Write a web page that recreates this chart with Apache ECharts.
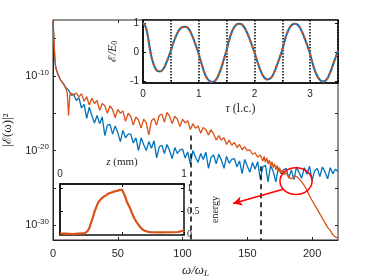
<!DOCTYPE html>
<html><head><meta charset="utf-8">
<script src="https://cdn.jsdelivr.net/npm/echarts@6/dist/echarts.min.js"></script>
<style>html,body{margin:0;padding:0;background:#fff}#c{width:374px;height:280px}</style>
</head><body><div id="c"></div>
<script>
// ---- main spectrum (log10 of |E(w)|^2) ----
const omegaBlue = [0,0.5,1,1.5,2,3,4,5,6,8,10,12,14,16,18,20,22,24,26,28,30,32,34,36,38,40,42,44,46,48,50,52,54,56,58,60,62,64,66,68,70,72,74,76,78,80,82,84,86,88,90,92,94,96,98,100,102,104,106,108,110,112,114,116,118,120,122,124,126,128,130,132,134,136,138,140,142,144,146,148,150,152,154,156,158,160,162,164,166,168,170,172,174,176,178,180,182,184,186,188,190,192,194,196,198,200,202,204,206,208,210,212,214,216,218,220];
const logBlue = [-2.9,-4.5,-6.5,-8.0,-8.8,-9.4,-9.9,-10.2,-10.6,-11.0,-11.6,-11.9,-12.6,-12.5,-13.3,-12.9,-14.3,-13.8,-15.7,-14.2,-15.3,-16.3,-15.3,-16.4,-15.5,-18.0,-16.6,-16.5,-17.8,-16.7,-17.6,-18.8,-17.3,-18.3,-17.8,-17.8,-19.0,-18.3,-20.0,-18.3,-19.2,-20.0,-18.8,-19.7,-18.7,-21.0,-19.5,-19.3,-20.4,-19.2,-20.0,-21.1,-19.6,-20.4,-19.9,-19.8,-21.0,-20.2,-21.8,-20.0,-20.9,-21.6,-20.4,-21.2,-20.2,-22.4,-20.9,-20.6,-21.8,-20.5,-21.3,-22.4,-20.8,-21.7,-21.2,-21.1,-22.2,-21.4,-23.1,-21.2,-22.1,-22.9,-21.6,-22.5,-21.5,-23.8,-22.2,-22.0,-24.2,-22.0,-22.8,-24.2,-22.3,-23.1,-22.6,-22.4,-23.7,-22.6,-23.9,-22.2,-23.0,-23.7,-22.3,-23.2,-22.1,-24.0,-22.7,-22.4,-23.5,-22.2,-22.9,-23.8,-22.3,-23.1,-22.5,-22.8];
const omegaOrange = [0,0.5,1,1.5,2,3,4,5,6,8,10,11,12,13,14,16,18,20,22,24,26,28,30,32,34,36,38,40,42,44,46,48,50,52,54,56,58,60,62,64,66,68,70,72,74,76,78,80,82,84,86,88,90,92,94,96,98,100,102,104,106,108,110,112,114,116,118,120,122,124,126,128,130,132,134,136,138,140,142,144,146,148,150,152,154,156,158,160,162,163,164,165,166,167,168,169,170,171,172,173,174,175,176,177,178,180,182,184,186,188,190,192,194,196,198,200,202,204,206,208,210,212,214,216,218,220];
const logOrange = [-2.5,-4.0,-6.0,-7.8,-8.7,-9.3,-9.8,-10.2,-10.6,-11.1,-11.7,-12.3,-15.3,-12.6,-12.3,-12.5,-12.3,-12.8,-12.4,-13.4,-12.8,-13.9,-13.0,-13.7,-13.3,-14.6,-13.7,-14.0,-15.0,-14.0,-14.5,-15.6,-14.5,-15.0,-14.7,-16.1,-15.0,-15.4,-16.6,-15.5,-15.9,-17.0,-15.8,-16.3,-17.9,-16.0,-15.7,-16.6,-15.3,-15.1,-16.2,-14.9,-15.4,-16.4,-15.4,-15.8,-16.8,-15.8,-16.3,-16.0,-17.2,-16.4,-17.0,-16.7,-17.7,-16.9,-17.2,-17.9,-17.2,-17.8,-18.6,-18.0,-18.6,-18.3,-19.2,-18.6,-19.3,-18.9,-19.6,-19.2,-19.9,-19.5,-20.0,-19.9,-20.5,-20.3,-20.9,-20.6,-21.4,-20.8,-21.6,-21.0,-21.8,-21.3,-22.1,-21.5,-22.3,-21.8,-22.6,-22.0,-22.8,-22.3,-23.0,-22.6,-23.2,-23.0,-23.6,-23.8,-23.4,-23.5,-23.8,-24.2,-24.7,-25.3,-26.1,-26.7,-27.3,-27.9,-28.5,-29.1,-29.7,-30.3,-30.7,-31.3,-31.6,-31.7];
const mainYTicks = [-30,-25,-20,-15,-10,-5];
const mainYLabels = [-30,-20,-10];

// ---- inset 1: field vs tau ----
const tau = [0,0.04,0.08,0.13,0.18,0.24,0.30,0.36,0.42,0.49,0.56,0.63,0.69,0.75,0.81,0.87,0.93,0.99,1.06,1.12,1.18,1.24,1.30,1.36,1.42,1.49,1.55,1.61,1.67,1.73,1.79,1.86,1.93,2.0,2.06,2.12,2.18,2.24,2.30,2.36,2.42,2.49,2.55,2.61,2.67,2.72,2.78,2.85,2.92,2.99,3.05,3.11,3.17,3.23,3.29,3.35,3.42,3.5];
const field = [1.0,0.9,0.62,0.05,-0.35,-0.6,-0.66,-0.58,-0.35,0,0.4,0.7,0.84,0.87,0.82,0.62,0.33,0,-0.45,-0.78,-0.96,-1.02,-0.96,-0.76,-0.44,0,0.44,0.76,0.93,0.97,0.92,0.7,0.37,0,-0.36,-0.67,-0.87,-0.93,-0.87,-0.66,-0.36,0.02,0.44,0.76,0.93,0.97,0.93,0.71,0.38,0,-0.42,-0.74,-0.93,-1.0,-0.94,-0.73,-0.37,0.05];
const fieldTicks = [-1,0,1];

// ---- inset 2: energy vs z ----
const zmm = [0,0.05,0.1,0.15,0.2,0.22,0.235,0.25,0.265,0.28,0.295,0.31,0.33,0.35,0.37,0.39,0.41,0.44,0.46,0.48,0.5,0.51,0.515,0.525,0.54,0.565,0.58,0.6,0.62,0.645,0.665,0.685,0.71,0.74,0.8,0.9,0.95,0.99,1.0];
const energy = [0.01,0.01,0.0,0.01,0.02,0.06,0.12,0.25,0.36,0.5,0.6,0.7,0.76,0.81,0.84,0.88,0.9,0.93,0.94,0.96,0.97,0.99,0.98,0.82,0.7,0.56,0.46,0.34,0.25,0.16,0.1,0.07,0.05,0.04,0.035,0.04,0.045,0.07,0.08];
const zLabels = [0,1];
const zTicks = [0,0.5,1];
const energyTicks = [0,0.5,1];

// ---- annotations (data coordinates) ----
const dashedLines = [[106,-18.0],[160.5,-22.1]];
const ellipseCenter = [187.6,-24.1];
const ellipseRadii = [12.4,1.8];
const arrowFrom = [177.6,-25.2];
const arrowTo = [139,-27.1];

const BLUE = '#0072BD', ORANGE = '#D95319', AX = '#262626';
const SANS = 'Liberation Sans, Arial, sans-serif';
const SERIF = 'Liberation Serif, DejaVu Serif, serif';
const SCRIPT = 'DejaVu Serif, serif';

const zip = (a,b) => a.map((v,i)=>[v,b[i]]);

const chart = echarts.init(document.getElementById('c'), null, {renderer:'canvas'});
const lbl = (extra) => Object.assign({color: AX, fontFamily: SANS, fontSize: 11, hideOverlap: false, showMinLabel: true, showMaxLabel: true}, extra||{});
const line0 = (c, w) => ({onZero: false, lineStyle: {color: c, width: w}});

chart.setOption({
  animation: false,
  backgroundColor: '#fff',
  grid: [
    {left: 53, top: 20, width: 285, height: 220, show: true, borderColor: AX, borderWidth: 1, backgroundColor: 'transparent', containLabel: false, outerBoundsMode: 'none'},
    {left: 143, top: 20, width: 195, height: 63, show: true, borderColor: '#111', borderWidth: 1.5, backgroundColor: '#fff', z: 3, containLabel: false, outerBoundsMode: 'none'},
    {left: 60, top: 184, width: 124, height: 51, show: true, borderColor: '#111', borderWidth: 1.5, backgroundColor: '#fff', z: 3, containLabel: false, outerBoundsMode: 'none'}
  ],
  xAxis: [
    {gridIndex: 0, type: 'value', min: 0, max: 220, interval: 50, position: 'bottom',
     axisLine: line0(AX, 1), axisTick: {inside: true, length: 3, lineStyle: {color: AX}},
     splitLine: {show: false}, axisLabel: lbl({margin: 8, showMaxLabel: false}),
     name: '{i|ω/ω}{s|L}', nameLocation: 'middle', nameGap: 23,
     nameTextStyle: {rich: {i: {fontFamily: SERIF, fontStyle: 'italic', fontSize: 13, color: AX}, s: {fontFamily: SERIF, fontStyle: 'italic', fontSize: 9, color: AX, padding: [6,0,0,0]}}}},
    {gridIndex: 0, type: 'value', min: 0, max: 220, interval: 50, position: 'top',
     axisLine: {show: false, onZero: false}, axisTick: {inside: true, length: 3, lineStyle: {color: AX}},
     splitLine: {show: false}, axisLabel: {show: false}},
    {gridIndex: 1, type: 'value', min: 0, max: 3.5, interval: 0.5, position: 'bottom', z: 4,
     axisLine: line0('#111', 1.5), axisTick: {inside: true, length: 3, lineStyle: {color: '#111'}},
     splitLine: {show: true, lineStyle: {color: '#000', width: 1.5, type: [1.5,1.5]}},
     axisLabel: lbl({fontSize: 10, margin: 6, formatter: v => (Number.isInteger(v) && v < 3.5) ? String(v) : ''}),
     name: '{i|τ}{n| (l.c.)}', nameLocation: 'middle', nameGap: 20,
     nameTextStyle: {rich: {i: {fontFamily: SERIF, fontStyle: 'italic', fontSize: 12, color: AX}, n: {fontFamily: SERIF, fontSize: 12, color: AX}}}},
    {gridIndex: 2, type: 'value', min: 0, max: 1, position: 'top', z: 4,
     axisLine: line0('#111', 1.5), axisTick: {inside: true, length: 3, customValues: zTicks, lineStyle: {color: '#111'}},
     splitLine: {show: false}, axisLabel: lbl({fontSize: 10, margin: 5, customValues: zLabels}),
     name: '{i|z}{n| (mm)}', nameLocation: 'middle', nameGap: 5,
     nameTextStyle: {rich: {i: {fontFamily: SERIF, fontStyle: 'italic', fontSize: 11, color: AX}, n: {fontFamily: SERIF, fontSize: 11, color: AX}}}},
    {gridIndex: 2, type: 'value', min: 0, max: 1, position: 'bottom', z: 4,
     axisLine: {show: false, onZero: false}, axisTick: {inside: true, length: 3, customValues: zTicks, lineStyle: {color: '#111'}},
     splitLine: {show: false}, axisLabel: {show: false}}
  ],
  yAxis: [
    {gridIndex: 0, type: 'value', min: -32, max: -2.5, position: 'left',
     axisLine: line0(AX, 1), axisTick: {inside: true, length: 3, customValues: mainYTicks, lineStyle: {color: AX}},
     splitLine: {show: false},
     axisLabel: {margin: 4, customValues: mainYLabels, formatter: v => '{b|10}{s|' + v + '}',
       rich: {b: {fontFamily: SANS, fontSize: 11, color: AX}, s: {fontFamily: SANS, fontSize: 8, color: AX, padding: [0,0,7,0]}}},
     name: '{n||}{e|ℰ}{n|(ω)|²}', nameLocation: 'middle', nameGap: 31, nameRotate: 90,
     nameTextStyle: {rich: {n: {fontFamily: SERIF, fontSize: 13, color: AX}, e: {fontFamily: SCRIPT, fontSize: 12, color: AX}}}},
    {gridIndex: 0, type: 'value', min: -32, max: -2.5, position: 'right',
     axisLine: {show: false, onZero: false}, axisTick: {inside: true, length: 3, customValues: mainYTicks, lineStyle: {color: AX}},
     splitLine: {show: false}, axisLabel: {show: false}},
    {gridIndex: 1, type: 'value', min: -1.05, max: 1.1, position: 'left', z: 4,
     axisLine: line0('#111', 1.5), axisTick: {inside: true, length: 3, customValues: fieldTicks, lineStyle: {color: '#111'}},
     splitLine: {show: false}, axisLabel: lbl({fontSize: 10, margin: 4, customValues: fieldTicks}),
     name: '{e|ℰ}{i|/E}{s|0}', nameLocation: 'middle', nameGap: 16, nameRotate: 90,
     nameTextStyle: {rich: {e: {fontFamily: SCRIPT, fontSize: 11, color: AX}, i: {fontFamily: SERIF, fontStyle: 'italic', fontSize: 12, color: AX}, s: {fontFamily: SERIF, fontSize: 8, color: AX, padding: [5,0,0,0]}}}},
    {gridIndex: 1, type: 'value', min: -1.05, max: 1.1, position: 'right', z: 4,
     axisLine: {show: false, onZero: false}, axisTick: {inside: true, length: 3, customValues: fieldTicks, lineStyle: {color: '#111'}},
     splitLine: {show: false}, axisLabel: {show: false}},
    {gridIndex: 2, type: 'value', min: -0.02, max: 1.09, position: 'left', z: 4,
     axisLine: line0('#111', 1.5), axisTick: {inside: true, length: 3, customValues: energyTicks, lineStyle: {color: '#111'}},
     splitLine: {show: false}, axisLabel: {show: false}},
    {gridIndex: 2, type: 'value', min: -0.02, max: 1.09, position: 'right', z: 4,
     axisLine: {show: false, onZero: false}, axisTick: {inside: true, length: 3, customValues: energyTicks, lineStyle: {color: '#111'}},
     splitLine: {show: false}, axisLabel: {show: false},
     name: 'energy', nameLocation: 'middle', nameGap: 26, nameRotate: 90,
     nameTextStyle: {fontFamily: SERIF, fontSize: 10, color: AX}}
  ],
  series: [
    {type: 'line', xAxisIndex: 0, yAxisIndex: 0, data: zip(omegaBlue, logBlue), showSymbol: false, z: 2,
     lineStyle: {color: BLUE, width: 1.3}},
    {type: 'line', xAxisIndex: 0, yAxisIndex: 0, data: zip(omegaOrange, logOrange), showSymbol: false, z: 2,
     lineStyle: {color: ORANGE, width: 1.3}},
    {type: 'line', xAxisIndex: 2, yAxisIndex: 2, data: zip(tau, field), showSymbol: false, smooth: 0.5, z: 5,
     lineStyle: {color: BLUE, width: 2}},
    {type: 'line', xAxisIndex: 2, yAxisIndex: 2, data: zip(tau, field), showSymbol: false, smooth: 0.5, z: 6,
     lineStyle: {color: ORANGE, width: 2, type: [3,3]}},
    {type: 'line', xAxisIndex: 4, yAxisIndex: 5, data: zip(zmm, energy), showSymbol: false, z: 5,
     lineStyle: {color: ORANGE, width: 2.2}},
    {type: 'line', xAxisIndex: 0, yAxisIndex: 0, data: [], z: 2, silent: true,
     markLine: {silent: true, symbol: ['none','none'], label: {show: false}, animation: false,
       lineStyle: {color: '#000', width: 1.5, type: [5,4]},
       data: dashedLines.map(p => [{coord: [p[0], p[1]]}, {coord: [p[0], -32]}])}},
    {type: 'line', xAxisIndex: 0, yAxisIndex: 0, data: [], z: 8, silent: true,
     markLine: {silent: true, symbol: ['none','arrow'], symbolSize: [7,9], label: {show: false}, animation: false,
       lineStyle: {color: '#ff0000', width: 1.6, type: 'solid'},
       data: [[{coord: arrowFrom}, {coord: arrowTo}]]}}
  ]
});

const c0 = chart.convertToPixel({gridIndex: 0}, ellipseCenter);
const c1 = chart.convertToPixel({gridIndex: 0}, [ellipseCenter[0] + ellipseRadii[0], ellipseCenter[1] + ellipseRadii[1]]);
const insetRight = chart.convertToPixel({xAxisIndex: 4, yAxisIndex: 5}, [1, 0])[0];
const energyLabelEls = energyTicks.map(v => {
  const py = chart.convertToPixel({xAxisIndex: 4, yAxisIndex: 5}, [1, v])[1];
  return {type: 'text', z: 50, silent: true, x: insetRight + 3, y: py,
    style: {text: String(v), fontFamily: SERIF, fontSize: 10, fill: AX, align: 'left', verticalAlign: 'middle'}};
});
chart.setOption({graphic: [{type: 'ellipse', z: 100, silent: true,
  shape: {cx: c0[0], cy: c0[1], rx: Math.abs(c1[0]-c0[0]), ry: Math.abs(c1[1]-c0[1])},
  style: {fill: 'none', stroke: '#ff0000', lineWidth: 1.5}}].concat(energyLabelEls)});
</script></body></html>
